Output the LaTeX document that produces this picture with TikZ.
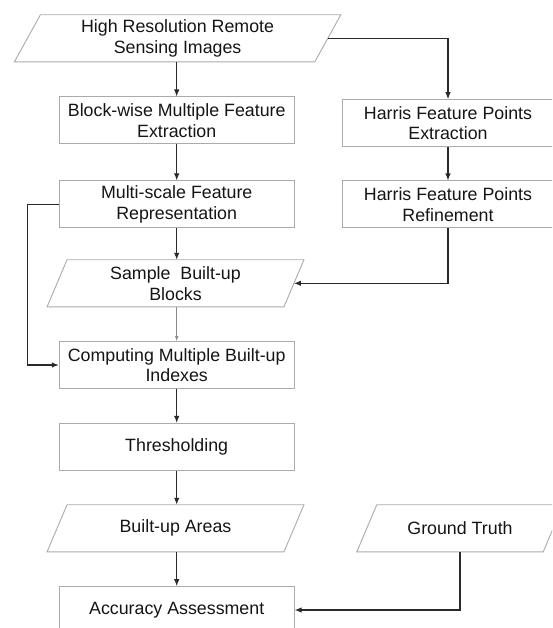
\documentclass[tikz,border=0pt]{standalone}
\usepackage{fontspec}
\setmainfont{Liberation Sans}
\usetikzlibrary{arrows.meta}
\definecolor{boxgray}{HTML}{ABABAB}
\definecolor{arrowdark}{HTML}{2A2A2A}
\definecolor{arrowlight}{HTML}{8A8A8A}
\definecolor{txt}{HTML}{151515}
\tikzset{
  boxline/.style={draw=boxgray, line width=0.9pt},
  stepbox/.style={boxline, minimum width=235pt, minimum height=46.7pt, inner sep=0pt, align=center, text=txt, font=\fontsize{17.8}{20.7}\selectfont},
  parabox/.style={minimum height=46.7pt, inner sep=0pt, align=center, text=txt, font=\fontsize{17.8}{20.7}\selectfont},
  flow/.style={draw=arrowdark, line width=1.1pt, -{Latex[length=7pt,width=5.5pt]}},
  flowlight/.style={draw=arrowlight, line width=0.8pt, -{Latex[length=5pt,width=3.5pt]}}
}
\begin{document}
\begin{tikzpicture}[x=1pt,y=-1pt]
\useasboundingbox (0,0) rectangle (552,628);
\clip (0,0) rectangle (552,628);
\fill[white] (0,0) rectangle (552,628);

% parallelogram text holders
\node[parabox, minimum width=300pt] (src) at (177.6,38.3) {High Resolution Remote\\Sensing Images};
\node[parabox, minimum width=236.5pt] (smp) at (175.5,283.3) {Sample~~Built-up\\Blocks};
\node[parabox, minimum width=236.5pt] (bua) at (175.5,528.3) {Built-up Areas};
\node[parabox, minimum width=186pt] (gt) at (460,528.3) {Ground Truth};

\foreach \n/\s in {src/13, smp/10, bua/10, gt/10}
  \draw[boxline] ([xshift=\s pt]\n.north west) -- ([xshift=\s pt]\n.north east)
    -- ([xshift=-\s pt]\n.south east) -- ([xshift=-\s pt]\n.south west) -- cycle;

% rectangles
\node[stepbox] (blk) at (176.7,120.3) {Block-wise Multiple Feature\\Extraction};
\node[stepbox] (msf) at (176.7,204.2) {Multi-scale Feature\\Representation};
\node[stepbox, minimum width=212pt] (hfe) at (448,123) {Harris Feature Points\\Extraction};
\node[stepbox, minimum width=212pt] (hfr) at (448,204.3) {Harris Feature Points\\Refinement};
\node[stepbox] (cmp) at (176.7,365) {Computing Multiple Built-up\\Indexes};
\node[stepbox] (thr) at (176.7,446.7) {Thresholding};
\node[stepbox] (acc) at (176.7,610) {Accuracy Assessment};

\coordinate (loopx) at (27.3,0);

% connectors
\draw[flow] (src.south -| blk.north) -- (blk.north);
\draw[flow] (src.east) -| (hfe.north);
\draw[flow] (blk.south) -- (msf.north);
\draw[flow] (hfe.south) -- (hfr.north);
\draw[flow] (msf.south) -- (msf.south |- smp.north);
\draw[flow] (hfr.south) |- (smp.east);
\draw[flowlight] (smp.south -| cmp.north) -- (cmp.north);
\draw[flow] (msf.west) -- (loopx |- msf.west) -- (loopx |- cmp.west) -- (cmp.west);
\draw[flow] (cmp.south) -- (thr.north);
\draw[flow] (thr.south) -- (thr.south |- bua.north);
\draw[flow] (bua.south -| acc.north) -- (acc.north);
\draw[flow] (gt.south) |- (acc.east);
\end{tikzpicture}
\end{document}
